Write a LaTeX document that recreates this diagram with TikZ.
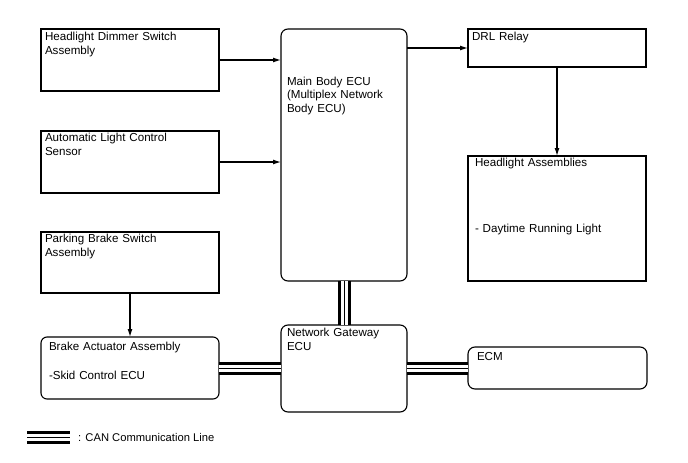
\documentclass[tikz,border=0pt]{standalone}
\usepackage{fontspec}
\setmainfont{Liberation Sans}
\usetikzlibrary{arrows.meta,positioning}
\newcommand{\blkfont}{\fontsize{11.6}{13.8}\selectfont}
\tikzset{
  % blk = {width}{height}{left pad}{first baseline from top}
  blk/.style n args={4}{draw=black,line width=1.1pt,anchor=north west,outer sep=0pt,align=left,
    inner ysep=0pt,inner xsep=#3,text width=#1-2*#3,text height=#4,text depth=#2-#4,font=\blkfont},
  arr/.style={-{Latex[length=8pt,width=5pt]},line width=1.2pt},
  can/.style={draw=white,line width=7pt,preaction={draw=black,line width=13pt},
    postaction={draw=black,line width=1pt}},
}
\begin{document}
\begin{tikzpicture}[x=1pt,y=-1pt]
  \useasboundingbox (0,0) rectangle (688,463);
  % left column
  \node[blk={178pt}{62pt}{4pt}{11.7pt}] (dim) at (41,29) {Headlight Dimmer Switch\\Assembly};
  \node[blk={178pt}{62pt}{4pt}{10.7pt}] (alc) at (41,131) {Automatic Light Control\\Sensor};
  \node[blk={178pt}{61pt}{4pt}{10.7pt}] (park) at (41,232) {Parking Brake Switch\\Assembly};
  \node[blk={178pt}{62pt}{8pt}{13pt},rounded corners=6pt] (brake) at (41,337) {Brake Actuator Assembly\\[15.5pt]-Skid Control ECU};
  % ECUs
  \node[blk={126pt}{252pt}{6pt}{56pt},rounded corners=7pt] (main) at (281,29) {Main Body ECU\\(Multiplex Network\\Body ECU)};
  \node[blk={126pt}{87pt}{6pt}{11.7pt},rounded corners=7pt] (gw) at (281,325) {Network Gateway\\ECU};
  % right column
  \node[blk={178pt}{38pt}{4pt}{11.7pt}] (drl) at (468,29) {DRL Relay};
  \node[blk={178pt}{125pt}{7pt}{10.7pt}] (head) at (468,156) {Headlight Assemblies\\[51.5pt]- Daytime Running Light};
  \node[blk={179pt}{42pt}{9pt}{13.7pt},rounded corners=7pt] (ecm) at (468,347) {ECM};

  \draw[arr] (dim.east) -- (dim.east -| main.west);
  \draw[arr] (alc.east) -- (alc.east -| main.west);
  \draw[arr] (main.east |- drl.west) -- (drl.west);
  \draw[arr] (drl.south) -- (head.north);
  \draw[arr] (park.south) -- (brake.north);

  % CAN lines
  \draw[can] (main.south) -- (gw.north);
  \draw[can] (brake.east) -- (brake.east -| gw.west);
  \draw[can] (gw.east |- ecm.west) -- (ecm.west);

  % legend
  \coordinate (lg1) at (27,437.5);
  \coordinate (lg2) at (70,437.5);
  \draw[can] (lg1) -- (lg2);
  \node[font=\fontsize{11.2}{13}\selectfont,anchor=west,inner sep=0pt] (lgtxt) at (78,437.5) {: CAN Communication Line};
\end{tikzpicture}
\end{document}
